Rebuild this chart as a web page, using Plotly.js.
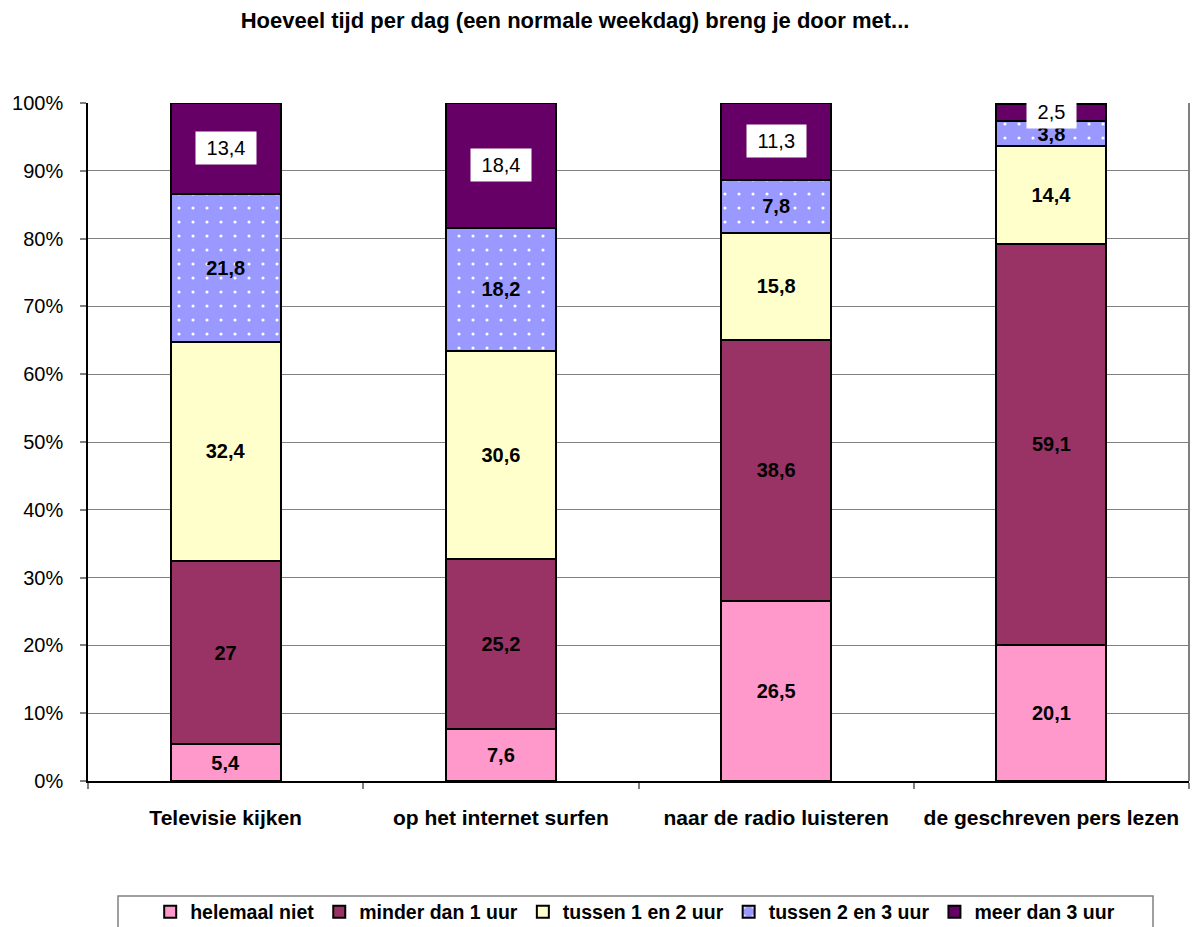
<!DOCTYPE html>
<html>
<head>
<meta charset="utf-8">
<script src="https://cdn.plot.ly/plotly-3.0.1.min.js"></script>
<style>
html,body{margin:0;padding:0;background:#fff;}
#chart{width:1193px;height:927px;}
</style>
</head>
<body>
<div id="chart"></div>
<script>
// ---- data ----
var categories = ["Televisie kijken", "op het internet surfen", "naar de radio luisteren", "de geschreven pers lezen"];
var seriesNames = ["helemaal niet", "minder dan 1 uur", "tussen 1 en 2 uur", "tussen 2 en 3 uur", "meer dan 3 uur"];
var helemaalNiet = [5.4, 7.6, 26.5, 20.1];
var minderDan1 = [27, 25.2, 38.6, 59.1];
var tussen1en2 = [32.4, 30.6, 15.8, 14.4];
var tussen2en3 = [21.8, 18.2, 7.8, 3.8];
var meerDan3 = [13.4, 18.4, 11.3, 2.5];
var yTickVals = [0, 10, 20, 30, 40, 50, 60, 70, 80, 90, 100];
var yTickText = ["0%", "10%", "20%", "30%", "40%", "50%", "60%", "70%", "80%", "90%", "100%"];
var titleText = "Hoeveel tijd per dag (een normale weekdag) breng je door met...";

var colors = ["#FF99CC", "#993366", "#FFFFCC", "#9999FF", "#660066"];
var FONT = "Arial, 'Liberation Sans', sans-serif";

function fmt(v) { return String(v).replace('.', ','); }

var allSeries = [helemaalNiet, minderDan1, tussen1en2, tussen2en3, meerDan3];
var traces = [];
allSeries.forEach(function (vals, i) {
  var isLast = (i === allSeries.length - 1);
  var marker = { color: colors[i], line: { color: '#000000', width: 2 } };
  if (i === 3) {
    marker.pattern = { shape: '.', fgcolor: '#ffffff', bgcolor: colors[i], size: 14, solidity: 0.04 };
  }
  traces.push({
    type: 'bar',
    name: seriesNames[i],
    x: categories,
    y: vals,
    marker: marker,
    text: isLast ? null : vals.map(fmt),
    textposition: isLast ? 'none' : 'inside',
    insidetextanchor: 'middle',
    constraintext: 'none',
    textfont: { family: FONT, size: 20, color: '#000000', weight: 'bold' },
    hoverinfo: 'x+y+name'
  });
});

// boxed labels for top series
var annotations = [];
categories.forEach(function (c, j) {
  var below = 0;
  for (var k = 0; k < allSeries.length - 1; k++) below += allSeries[k][j];
  var v = meerDan3[j];
  annotations.push({
    x: c, y: below + v / 2, xref: 'x', yref: 'y',
    text: '\u00a0' + fmt(v) + '\u00a0',
    showarrow: false,
    bgcolor: '#ffffff',
    borderpad: 5,
    font: { family: FONT, size: 20, color: '#000000' }
  });
});

var layout = {
  width: 1193, height: 927,
  margin: { l: 88, r: 4, t: 103, b: 146, autoexpand: false },
  paper_bgcolor: '#ffffff',
  plot_bgcolor: '#ffffff',
  font: { family: FONT, color: '#000000' },
  title: {
    text: '<b>' + titleText + '</b>',
    font: { family: FONT, size: 22, color: '#000000' },
    x: 575 / 1193, xanchor: 'center', xref: 'container',
    y: 1 - 20 / 927, yanchor: 'middle', yref: 'container'
  },
  barmode: 'stack',
  bargap: 0.6,
  showlegend: true,
  legend: {
    orientation: 'h',
    traceorder: 'normal',
    x: 0.497, xanchor: 'center',
    y: (781 - 912) / 678, yanchor: 'middle',
    bgcolor: 'rgba(0,0,0,0)',
    borderwidth: 0,
    font: { family: FONT, size: 19.5, color: '#000000', weight: 'bold' }
  },
  xaxis: {
    type: 'category',
    showline: true, linecolor: '#000000', linewidth: 1.5,
    ticks: 'outside', tickson: 'boundaries', ticklen: 6, tickcolor: '#808080', tickwidth: 1.5,
    tickfont: { family: FONT, size: 21, color: '#000000', weight: 'bold' },
    ticklabelstandoff: 17,
    showgrid: false,
    zeroline: false,
    automargin: false,
    fixedrange: true
  },
  yaxis: {
    range: [0, 100],
    tickvals: yTickVals,
    ticktext: yTickText,
    showline: true, linecolor: '#000000', linewidth: 1.5,
    ticks: 'outside', ticklen: 6, tickcolor: '#808080', tickwidth: 1.5,
    tickfont: { family: FONT, size: 20, color: '#000000' },
    ticklabelstandoff: 13,
    showgrid: true, gridcolor: '#808080', gridwidth: 1,
    zeroline: false,
    automargin: false,
    fixedrange: true
  },
  shapes: [
    { type: 'line', xref: 'paper', yref: 'paper', x0: 1, x1: 1, y0: 0, y1: 1,
      line: { color: '#808080', width: 2 } },
    { type: 'rect', xref: 'paper', yref: 'paper',
      x0: (118 - 88) / 1101, x1: (1153 - 88) / 1101,
      y0: (781 - 940) / 678, y1: (781 - 896) / 678,
      line: { color: '#808080', width: 1.5 }, fillcolor: 'rgba(0,0,0,0)', layer: 'below' }
  ],
  annotations: annotations
};

Plotly.newPlot('chart', traces, layout, { displayModeBar: false, staticPlot: false });
</script>
</body>
</html>
